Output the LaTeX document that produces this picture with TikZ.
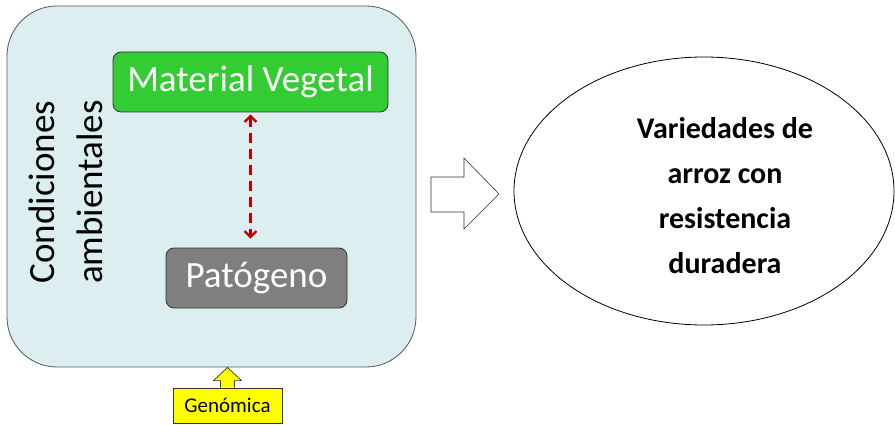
\documentclass[tikz,border=0pt]{standalone}
\usepackage{fontspec}
\setmainfont{Carlito}
\usetikzlibrary{arrows.meta,shapes.geometric,calc}
\definecolor{boxblue}{HTML}{DDEEF0}
\definecolor{boxedge}{HTML}{555555}
\definecolor{mvgreen}{HTML}{33CC33}
\definecolor{patgray}{HTML}{7F7F7F}
\definecolor{darkred}{HTML}{C00000}
\definecolor{ylw}{HTML}{FFFF00}
\tikzset{
  inner/.style={draw=black!80, line width=0.8pt, rounded corners=8pt, text=white, font=\fontsize{37}{44}\selectfont, inner sep=0pt},
  linkarrow/.style={draw=darkred, line width=2.2pt, dash pattern=on 10pt off 6pt, {Straight Barb[length=6pt,width=12pt]}-{Straight Barb[length=6pt,width=12pt]}},
  blockarrow/.style={draw=black!80, fill=white, line width=0.6pt, line join=miter},
}
\begin{document}
\begin{tikzpicture}[x=1pt,y=-1pt]
\useasboundingbox (0,0) rectangle (895,425);
% container
\node (env) [draw=boxedge, fill=boxblue, line width=0.8pt, rounded corners=50pt, minimum width=409pt, minimum height=361pt, inner sep=0pt] at (211.5,186.5) {};
\node (cond) [rotate=90, align=center, font=\fontsize{37}{48}\selectfont] at (66,192) {Condiciones\\ambientales};
\node (mv) [inner, fill=mvgreen, minimum width=275pt, minimum height=60pt] at (250.5,82) {Material Vegetal};
\node (pat) [inner, fill=patgray, minimum width=181pt, minimum height=60pt] at (256.5,278) {Patógeno};
\draw[linkarrow] ($(mv.south)+(0,2)$) -- ($(mv.south |- pat.north)+(0,-9)$);
% genomica
\node (gen) [draw=black!80, fill=ylw, line width=0.8pt, minimum width=109pt, minimum height=35pt, inner sep=0pt, font=\fontsize{21}{25}\selectfont] at (227.5,405.5) {Genómica};
\coordinate (gtip) at (gen.north |- env.south);
\draw[draw=black!80, fill=ylw, line width=0.7pt] ($(gen.north)+(-7,0)$) -- ++(0,-7) -- ++(-7,0) -- (gtip) -- ($(gen.north)+(14,-7)$) -- ++(-7,0) -- ($(gen.north)+(7,0)$);
% result ellipse
\node (res) [draw=black, ellipse, line width=0.8pt, minimum width=380pt, minimum height=268pt, inner sep=0pt] at (704,191) {};
\node (restext) [align=center, font=\bfseries\fontsize{30}{45}\selectfont] at (725,196) {Variedades de\\arroz con\\resistencia\\duradera};
% block arrow
\draw[blockarrow] (431,177) -- (464,177) -- (464,158) -- (499,194) -- (464,229) -- (464,212) -- (431,212) -- cycle;
\end{tikzpicture}
\end{document}
